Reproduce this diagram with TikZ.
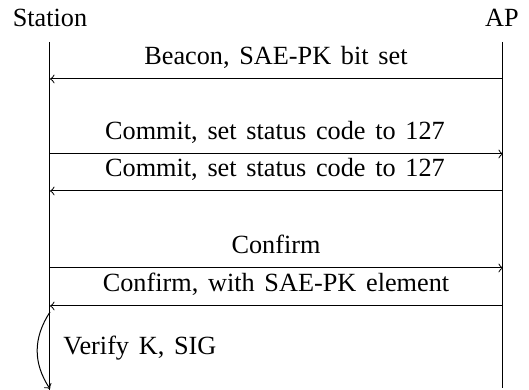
\documentclass[tikz,border=0pt]{standalone}
\usepackage{fontspec}
\setmainfont{Liberation Serif}
\newcommand\msgfontsel{\fontsize{10.5}{12.5}\selectfont\spaceskip=3.9pt plus 1pt minus 0.5pt\relax}
\begin{document}
\begin{tikzpicture}[x=0.4pt,y=-0.4pt,
  font=\msgfontsel,
  lbl/.style={anchor=base,inner sep=0pt},
  msg/.style={->},
  life/.style={draw}]
\useasboundingbox (0,0) rectangle (529,390);
% participants
\node[lbl] (station) at (50,27) {Station};
\node[lbl] (ap) at (502,27) {AP};
% lifelines
\coordinate (sTop) at (50,42);
\coordinate (sBot) at (50,390);
\coordinate (aTop) at (503,42);
\coordinate (aBot) at (503,388);
\draw[life] (sTop) -- (sBot);
\draw[life] (aTop) -- (aBot);
% messages
\coordinate (s1) at (50,79);  \coordinate (a1) at (503,79);
\coordinate (s2) at (50,154); \coordinate (a2) at (503,154);
\coordinate (s3) at (50,191); \coordinate (a3) at (503,191);
\coordinate (s4) at (50,268); \coordinate (a4) at (503,268);
\coordinate (s5) at (50,306); \coordinate (a5) at (503,306);
\draw[msg] (a1) -- (s1);
\draw[msg] (s2) -- (a2);
\draw[msg] (a3) -- (s3);
\draw[msg] (s4) -- (a4);
\draw[msg] (a5) -- (s5);
\node[lbl] (m1) at (276,65) {Beacon, SAE-PK bit set};
\node[lbl] (m2) at (275,140) {Commit, set status code to 127};
\node[lbl] (m3) at (275,177) {Commit, set status code to 127};
\node[lbl] (m4) at (276,254) {Confirm};
\node[lbl] (m5) at (276,292) {Confirm, with SAE-PK element};
% local action
\coordinate (v1) at (50,312);
\coordinate (v2) at (50,389);
\draw[msg] (v1) .. controls (33,338) and (33,363) .. (v2);
\node[anchor=base west,inner sep=0pt] (verify) at (63,355) {Verify K, SIG};
\end{tikzpicture}
\end{document}
